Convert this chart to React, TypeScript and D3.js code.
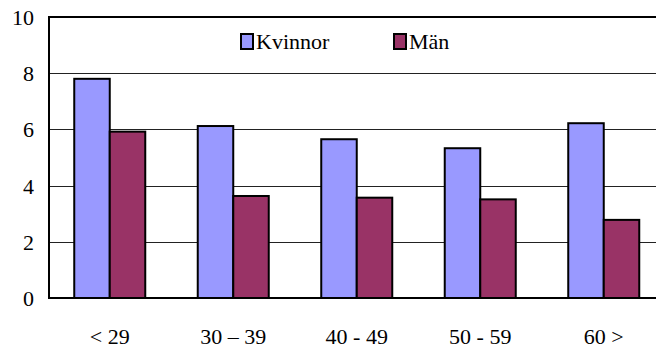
import React from "react";
import * as d3 from "d3";

const categories = ["< 29", "30 – 39", "40 - 49", "50 - 59", "60 >"];
const kvinnor = [7.8, 6.12, 5.65, 5.33, 6.22];
const man = [5.92, 3.63, 3.57, 3.51, 2.78];
const seriesNames = ["Kvinnor", "Män"];
const yTicks = [0, 2, 4, 6, 8, 10];

const W = 656;
const H = 349;
const colors = ["#9999FF", "#993366"];
const FONT = "Liberation Serif";

export default function App() {
  const x = d3
    .scaleBand<string>()
    .domain(categories)
    .range([48, 665.5])
    .paddingInner(0.425)
    .paddingOuter(0.2125);
  const xs = d3.scaleBand<string>().domain(seriesNames).range([0, x.bandwidth()]);
  const y = d3.scaleLinear().domain([0, 10]).range([298, 17]);
  const series = [kvinnor, man];

  return (
    <svg width={W} height={H} style={{ display: "block", position: "absolute", left: 0, top: 0, background: "#fff" }}>
      {yTicks
        .filter((t) => t > 0 && t < 10)
        .map((t) => (
          <line key={t} x1={49} x2={W} y1={Math.round(y(t)) + 0.5} y2={Math.round(y(t)) + 0.5} stroke="#222" strokeWidth={1} />
        ))}
      <line x1={49} x2={W} y1={y(10)} y2={y(10)} stroke="#000" strokeWidth={2} />
      {series.map((vals, si) =>
        vals.map((v, i) => (
          <rect
            key={si + "-" + i}
            x={(x(categories[i]) as number) + (xs(seriesNames[si]) as number)}
            y={y(v)}
            width={xs.bandwidth()}
            height={y(0) - y(v)}
            fill={colors[si]}
            stroke="#000"
            strokeWidth={2}
          />
        ))
      )}
      <line x1={49} x2={49} y1={y(10) - 1} y2={y(0)} stroke="#000" strokeWidth={2} />
      <line x1={48} x2={W} y1={y(0)} y2={y(0)} stroke="#000" strokeWidth={2} />
      {yTicks.map((t) => (
        <text key={t} x={34} y={y(t) + 8} textAnchor="end" fontFamily={FONT} fontSize={22}>
          {t}
        </text>
      ))}
      {categories.map((c) => (
        <text key={c} x={(x(c) as number) + x.bandwidth() / 2} y={344} textAnchor="middle" fontFamily={FONT} fontSize={22}>
          {c}
        </text>
      ))}
      {seriesNames.map((n, i) => {
        const lx = [241, 394][i];
        return (
          <g key={n}>
            <rect x={lx} y={34} width={12} height={15} fill={colors[i]} stroke="#000" strokeWidth={2} />
            <text x={lx + 15} y={49} fontFamily={FONT} fontSize={22}>
              {n}
            </text>
          </g>
        );
      })}
    </svg>
  );
}
